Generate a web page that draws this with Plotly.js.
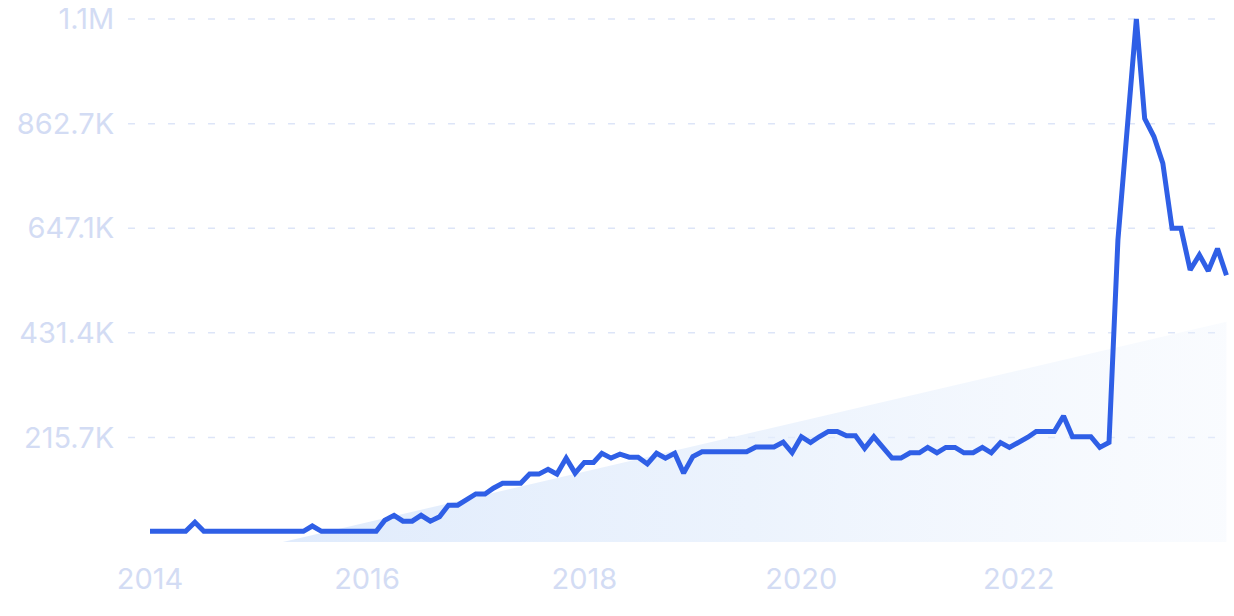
<!DOCTYPE html>
<html>
<head>
<meta charset="utf-8">
<script src="https://cdn.plot.ly/plotly-3.0.1.min.js"></script>
<style>
  html, body { margin: 0; padding: 0; background: #ffffff; }
  #chart { width: 1234px; height: 616px; }
</style>
</head>
<body>
<div id="chart"></div>
<script>
// ---- data ----
const startYear = 2014;
const searchValues = [ // thousands, monthly Jan 2014 .. Dec 2023
  22,22,22,22,22,40.6,22,22,22,22,22,22,
  22,22,22,22,22,22,33,22,22,22,22,22,
  22,22,45,55,43,43,55,43,52,76,76,88,
  99,99,111,121,121,121,140,140,150,140,173,142,
  164,164,183,173,181,175,175,161,183,173,183,142,
  176,186,186,186,186,186,186,196,196,196,206,184,
  217,205,217,228,228,219,219,193,217,196,173,173,
  184,184,195,184,195,195,184,184,195,184,205,195,
  205,216,228,228,228,260,217,217,217,195,205,623,
  850,1078.5,873,836,781,647,647,561,592,559,605,550
];
const trendDates = ['2015-03-24', '2023-12-01'];
const trendValues = [0, 454]; // thousands
const yTickValues = [215.7, 431.4, 647.1, 862.7, 1078.5]; // thousands
const yTickLabels = ['215.7K', '431.4K', '647.1K', '862.7K', '1.1M'];
const xTickValues = ['2014-01-01', '2016-01-01', '2018-01-01', '2020-01-01', '2022-01-01'];
const xTickLabels = ['2014', '2016', '2018', '2020', '2022'];

// month categories
const months = searchValues.map((_, i) => {
  const y = startYear + Math.floor(i / 12);
  const m = (i % 12) + 1;
  return y + '-' + String(m).padStart(2, '0') + '-01';
});

const K = 1000;
const lineY = searchValues.map(v => v * K);
const trendY = trendValues.map(v => v * K);

const labelColor = '#d3dcf4';
const gridColor = '#dde5f8';

const traces = [
  {
    x: trendDates, y: trendY, type: 'scatter', mode: 'lines',
    line: { width: 0, color: 'rgba(0,0,0,0)' },
    fill: 'tozeroy',
    fillcolor: 'rgba(220,232,251,0.6)',
    fillgradient: {
      type: 'horizontal',
      colorscale: [[0, 'rgba(222,234,252,0.95)'], [0.5, 'rgba(228,238,252,0.7)'], [1, 'rgba(236,243,253,0.3)']]
    },
    hoverinfo: 'skip', showlegend: false
  },
  {
    x: months, y: lineY, type: 'scatter', mode: 'lines',
    line: { color: '#2f5fe6', width: 5, shape: 'linear' },
    hoverinfo: 'x+y', showlegend: false
  }
];

const shapes = yTickValues.map(v => ({
  type: 'line', xref: 'paper', yref: 'y',
  x0: 0, x1: 0.987, y0: v * K, y1: v * K,
  line: { color: gridColor, width: 1.5, dash: '7px,13px' },
  layer: 'below'
}));

const layout = {
  width: 1234, height: 616,
  margin: { l: 128, r: 4, t: 10, b: 74 },
  paper_bgcolor: '#ffffff', plot_bgcolor: '#ffffff',
  font: { family: 'Inter, "Noto Sans", sans-serif', color: labelColor, size: 29 },
  showlegend: false,
  shapes: shapes,
  xaxis: {
    type: 'date',
    range: ['2013-10-19', '2023-12-13'],
    tickmode: 'array', tickvals: xTickValues, ticktext: xTickLabels,
    showgrid: false, zeroline: false, showline: false,
    ticks: 'outside', ticklen: 11, tickcolor: 'rgba(0,0,0,0)',
    tickfont: { size: 29, color: labelColor },
    fixedrange: true
  },
  yaxis: {
    range: [0, 1097000],
    tickmode: 'array', tickvals: yTickValues.map(v => v * K), ticktext: yTickLabels,
    showgrid: false, zeroline: false, showline: false,
    ticks: 'outside', ticklen: 7, tickcolor: 'rgba(0,0,0,0)',
    tickfont: { size: 29, color: labelColor },
    fixedrange: true
  }
};

Plotly.newPlot('chart', traces, layout, { displayModeBar: false, staticPlot: true });
</script>
</body>
</html>
